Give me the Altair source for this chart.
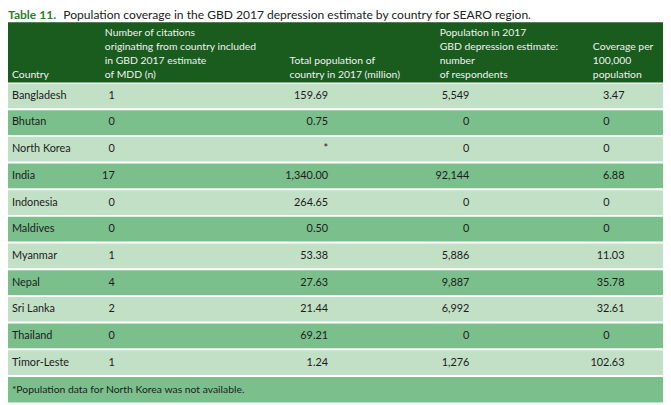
import altair as alt
import pandas as pd

# ---- data ----
countries = ["Bangladesh", "Bhutan", "North Korea", "India", "Indonesia", "Maldives",
             "Myanmar", "Nepal", "Sri Lanka", "Thailand", "Timor-Leste"]
citations = [1, 0, 0, 17, 0, 0, 1, 4, 2, 0, 1]
total_pop = [159.69, 0.75, None, 1340.00, 264.65, 0.50, 53.38, 27.63, 21.44, 69.21, 1.24]
respondents = [5549, 0, 0, 92144, 0, 0, 5886, 9887, 6992, 0, 1276]
coverage = [3.47, 0, 0, 6.88, 0, 0, 11.03, 35.78, 32.61, 0, 102.63]

title_bold = "Table 11."
title_rest = "Population coverage in the GBD 2017 depression estimate by country for SEARO region."
header_country = ["Country"]
header_citations = ["Number of citations", "originating from country included",
                    "in GBD 2017 estimate", "of MDD (n)"]
header_total = ["Total population of", "country in 2017 (million)"]
header_resp = ["Population in 2017", "GBD depression estimate:", "number", "of respondents"]
header_cov = ["Coverage per", "100,000", "population"]
footnote = "*Population data for North Korea was not available."

# ---- styles ----
W, H = 663, 397
FONT = "Lato"
DARK = "#1a5b1e"
MED = "#7bbf8c"
LIGHT = "#c2e0c6"
TXT = "#1c1c1c"
HDR_TXT = "#eef4ee"
TITLE_GREEN = "#2f7d2a"
LH = 14
LAST_BASE = 68

df = pd.DataFrame({
    "Country": countries,
    "cit": [str(c) for c in citations],
    "pop": ["*" if v is None else f"{v:,.2f}" for v in total_pop],
    "resp": [f"{v:,}" for v in respondents],
    "cov": ["0" if v == 0 else f"{v:.2f}" for v in coverage],
    "covdec": [v != 0 for v in coverage],
    "shade": ["a" if i % 2 == 0 else "b" for i in range(len(countries))],
})
one = pd.DataFrame({"k": [0]})

y_enc = alt.Y("Country:N", sort=countries, axis=None,
              scale=alt.Scale(range=[73, 370], paddingInner=0.074, paddingOuter=0.037))

rows = alt.Chart(df).mark_rect().encode(
    y=y_enc, x=alt.value(0), x2=alt.value(W),
    color=alt.Color("shade:N", scale=alt.Scale(domain=["a", "b"], range=[LIGHT, MED]), legend=None),
)

header_bg = alt.Chart(one).mark_rect(color=DARK).encode(
    x=alt.value(0), x2=alt.value(W), y=alt.value(12), y2=alt.value(73))
foot_bg = alt.Chart(one).mark_rect(color=MED).encode(
    x=alt.value(0), x2=alt.value(W), y=alt.value(371), y2=alt.value(H))

def body_text(field, x, align, flt=None):
    c = alt.Chart(df)
    if flt is not None:
        c = c.transform_filter(flt)
    return c.mark_text(align=align, baseline="middle", font=FONT, fontSize=11, color=TXT).encode(
        y=y_enc, x=alt.value(x), text=f"{field}:N")

def header_text(lines, x):
    y0 = LAST_BASE - (len(lines) - 1) * LH
    return alt.Chart(one).mark_text(align="left", baseline="alphabetic", font=FONT, fontSize=10.5,
                                    lineHeight=LH, color=HDR_TXT).encode(
        x=alt.value(x), y=alt.value(y0), text=alt.value(lines))

t1 = alt.Chart(one).mark_text(align="left", baseline="alphabetic", font=FONT, fontSize=12.2,
                              fontWeight="bold", color=TITLE_GREEN).encode(
    x=alt.value(0), y=alt.value(9), text=alt.value(title_bold))
t2 = alt.Chart(one).mark_text(align="left", baseline="alphabetic", font=FONT, fontSize=12.2,
                              color="#222222").encode(
    x=alt.value(56), y=alt.value(9), text=alt.value(title_rest))
fn = alt.Chart(one).mark_text(align="left", baseline="middle", font=FONT, fontSize=10.5,
                              color=TXT).encode(
    x=alt.value(4), y=alt.value(384), text=alt.value(footnote))

chart = alt.layer(
    header_bg, rows, foot_bg, t1, t2, fn,
    header_text(header_country, 4), header_text(header_citations, 98),
    header_text(header_total, 285), header_text(header_resp, 437), header_text(header_cov, 592),
    body_text("Country", 4, "left"),
    body_text("cit", 108, "right"),
    body_text("pop", 324, "right"),
    body_text("resp", 467, "right"),
    body_text("cov", 624, "right", alt.datum.covdec),
    body_text("cov", 609, "right", ~alt.datum.covdec),
).properties(
    width=W, height=H, autosize=alt.AutoSizeParams(type="none"), padding=0,
    background="white",
).configure_view(stroke=None)

chart.save("out.html", embed_options={"renderer": "svg", "actions": False})
